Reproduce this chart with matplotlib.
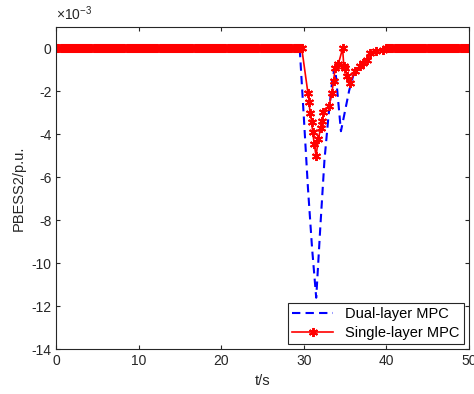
import numpy as np
import matplotlib
matplotlib.use('Agg')
import matplotlib.pyplot as plt

plt.rcParams['font.family'] = ['Liberation Sans', 'DejaVu Sans']
plt.rcParams['mathtext.fontset'] = 'custom'
plt.rcParams['mathtext.rm'] = 'Liberation Sans'
plt.rcParams['axes.unicode_minus'] = False

# values in units of 1e-3 p.u.
# single-layer MPC (red, markers)
t_flat = list(np.arange(0, 29.76, 0.25))
t_tail = list(np.arange(40, 50.01, 0.25))
t_single = t_flat + [30.5, 30.65, 30.75, 30.95, 31.07, 31.27, 31.48, 31.76, 32.04, 32.24,
                     32.37, 33.05, 33.4, 33.6, 33.8, 34.2, 34.7, 34.85, 35.0, 35.2, 35.6,
                     36.2, 36.8, 37.2, 37.6, 38.0, 38.8, 39.6] + t_tail
y_single = [0] * len(t_flat) + [-2.07, -2.5, -3.0, -3.4, -3.9, -4.46, -5.0, -4.23, -3.69, -3.38,
                                -2.96, -2.69, -2.07, -1.53, -0.91, -0.7, 0.0, -0.83, -0.91, -1.3, -1.6,
                                -1.06, -0.83, -0.68, -0.52, -0.22, -0.14, -0.06] + [0] * len(t_tail)

# dual-layer MPC (blue, dashed)
t_dual = [0, 29.5, 30.0, 30.5, 31.0, 31.5, 32.0, 32.5, 33.0, 33.5, 33.8, 34.5, 35.0, 35.5,
          36.0, 36.8, 37.6, 38.0, 38.8, 40.0, 50.0]
y_dual = [0, 0, -3.2, -6.5, -9.3, -11.6, -8.3, -5.2, -3.1, -1.3, -0.9, -3.85, -2.9, -1.95,
          -1.25, -0.83, -0.52, -0.22, -0.1, 0, 0]

fig = plt.figure(figsize=(4.74, 3.94), dpi=100)
ax = fig.add_axes([0.119, 0.1135, 0.870, 0.818])

ax.plot(t_dual, y_dual, '--', color='blue', linewidth=1.5, dashes=(4, 2.5), label='Dual-layer MPC')
ax.plot(t_single, y_single, '-', color='red', linewidth=1.2, marker=(6, 2, 0), markersize=6.5,
        markeredgewidth=1.4, label='Single-layer MPC')

ax.set_xlim(0, 50)
ax.set_ylim(-14, 1)
ax.set_xticks(range(0, 51, 10))
ax.set_yticks(range(-14, 1, 2))
ax.tick_params(direction='in', length=3, labelsize=10, colors='#262626', top=True, right=True)
for s in ax.spines.values():
    s.set_color('#262626')
    s.set_linewidth(0.8)
ax.set_xlabel('t/s', fontsize=10.5, color='#262626')
ax.set_ylabel('PBESS2/p.u.', fontsize=10.5, color='#262626')
ax.text(0, 1.012, r'$\times10^{-3}$', transform=ax.transAxes, fontsize=10, color='#262626',
        ha='left', va='bottom')

leg = ax.legend(loc='lower right', fontsize=10.5, fancybox=False, edgecolor='#262626',
                framealpha=1, borderaxespad=0.35, handlelength=2.8, borderpad=0.3, labelspacing=0.3)
leg.get_frame().set_linewidth(0.8)

fig.savefig('out.png', dpi=100)
